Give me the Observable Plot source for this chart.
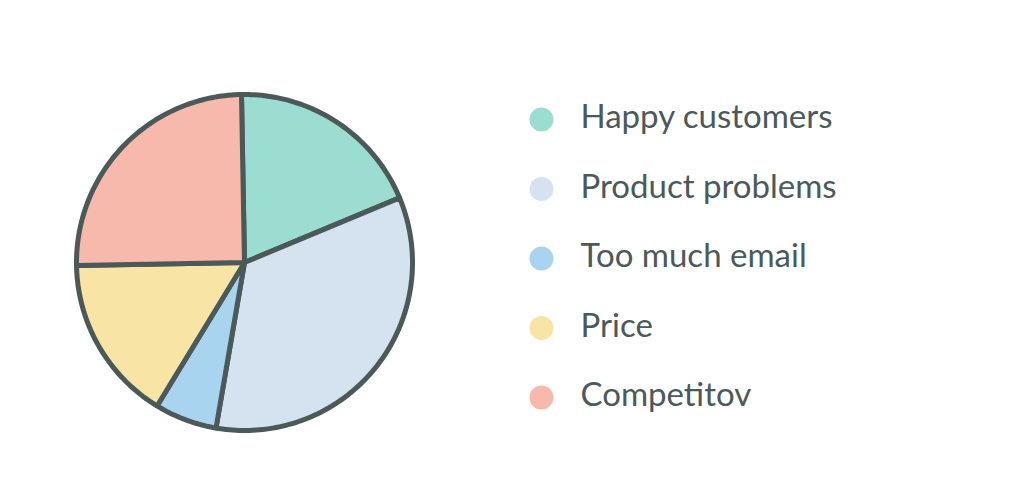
<!DOCTYPE html>
<html>
<head>
<meta charset="utf-8">
<script src="https://cdn.jsdelivr.net/npm/d3@7"></script>
<script src="https://cdn.jsdelivr.net/npm/@observablehq/plot@0.6"></script>
<style>
  html, body { margin: 0; padding: 0; background: #ffffff; }
  #chart svg { display: block; }
</style>
</head>
<body>
<div id="chart"></div>
<script>
// Data (percent of whole)
const categories = ["Happy customers", "Product problems", "Too much email", "Price", "Competitor"];
const legendLabels = ["Happy customers", "Product problems", "Too much email", "Price", "Competitov"];
const values = [19, 34, 6, 16, 25];
const colors = ["#9cddd1", "#d5e3f0", "#a8d4ef", "#f8e4a4", "#f7b9ab"];

// Layout
const W = 1023, H = 490;
const cx = 244, cy = 262, R = 168;
const startAngle = -0.018; // radians; first slice starts just left of 12 o'clock
const legendX = 541, legendTextX = 580, legendY0 = 119, legendStep = 69.5;

const pie = d3.pie().sort(null).value(d => d.value).startAngle(startAngle).endAngle(startAngle + 2 * Math.PI);
const arcs = pie(categories.map((c, i) => ({category: c, value: values[i]})));

// Polygon points of each slice (center + arc samples), drawn through Plot's x/y scales
const slicePts = [];
arcs.forEach(a => {
  const c = a.data.category;
  slicePts.push({category: c, x: cx, y: cy});
  const n = Math.max(8, Math.ceil((a.endAngle - a.startAngle) / 0.02));
  for (let k = 0; k <= n; k++) {
    const t = a.startAngle + (a.endAngle - a.startAngle) * k / n;
    slicePts.push({category: c, x: cx + R * Math.sin(t), y: cy - R * Math.cos(t)});
  }
});

const legend = categories.map((c, i) => ({category: c, label: legendLabels[i], x: legendX, tx: legendTextX, y: legendY0 + i * legendStep}));

const ink = "#4b5959";

const chart = Plot.plot({
  width: W,
  height: H,
  margin: 0,
  x: {domain: [0, W], range: [0, W], axis: null},
  y: {domain: [0, H], range: [0, H], axis: null},
  color: {domain: categories, range: colors},
  style: {background: "#ffffff"},
  marks: [
    Plot.line(slicePts, {x: "x", y: "y", z: "category", fill: "category", stroke: ink, strokeWidth: 5, curve: "linear-closed", strokeLinejoin: "round"}),
    Plot.dot(legend, {x: "x", y: "y", fill: "category", r: 12, stroke: null}),
    Plot.text(legend, {x: "tx", y: "y", text: "label", textAnchor: "start", fill: ink, fontSize: 33, fontFamily: "Lato, 'Open Sans', sans-serif", dy: -2})
  ]
});

document.getElementById("chart").appendChild(chart);
</script>
</body>
</html>
